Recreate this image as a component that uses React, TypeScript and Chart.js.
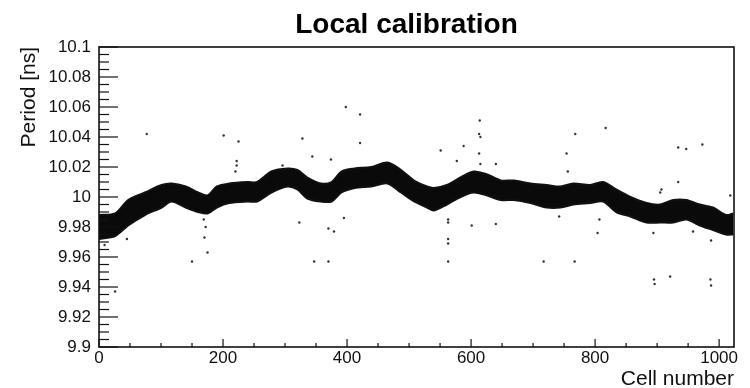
import { useEffect, useRef } from "react";
import { Chart, registerables } from "chart.js";

Chart.register(...registerables);

const TITLE = "Local calibration";
const X_TITLE = "Cell number";
const Y_TITLE = "Period [ns]";

const X_MIN = 0;
const X_MAX = 1024;
const Y_MIN = 9.9;
const Y_MAX = 10.1;
const xTickValues = [0, 200, 400, 600, 800, 1000];
const yTickValues = [9.9, 9.92, 9.94, 9.96, 9.98, 10, 10.02, 10.04, 10.06, 10.08, 10.1];

// Dense band of per-cell periods: upper / lower envelope
const bandCells = [0, 26, 47, 74, 101, 117, 140, 160, 175, 190, 210, 240, 255, 278, 304, 320, 336, 358, 375, 391, 412, 439, 465, 487, 508, 529, 540, 561, 583, 604, 626, 648, 669, 696, 722, 744, 765, 792, 813, 834, 857, 883, 905, 926, 947, 969, 990, 1011, 1023];
const bandUpper = [9.988, 9.989, 9.998, 10.003, 10.008, 10.009, 10.007, 10.003, 10.001, 10.007, 10.009, 10.010, 10.010, 10.017, 10.019, 10.018, 10.013, 10.009, 10.010, 10.017, 10.019, 10.020, 10.023, 10.018, 10.011, 10.007, 10.006, 10.008, 10.013, 10.017, 10.015, 10.011, 10.011, 10.009, 10.008, 10.007, 10.009, 10.008, 10.010, 10.005, 10.000, 9.996, 9.995, 9.998, 9.998, 9.995, 9.993, 9.988, 9.989];
const bandLower = [9.972, 9.974, 9.981, 9.988, 9.993, 9.997, 9.993, 9.990, 9.989, 9.993, 9.996, 9.997, 9.997, 10.003, 10.007, 10.005, 9.999, 9.997, 9.997, 10.003, 10.006, 10.007, 10.009, 10.003, 9.997, 9.993, 9.991, 9.995, 10.000, 10.003, 10.001, 9.998, 9.998, 9.996, 9.993, 9.993, 9.995, 9.996, 9.997, 9.990, 9.987, 9.983, 9.983, 9.983, 9.985, 9.981, 9.978, 9.975, 9.975];

// Isolated cells away from the band
const outlierCells = [77, 201, 225, 222, 222, 220, 9, 45, 26, 150, 169, 172, 170, 175, 328, 398, 421, 421, 344, 374, 551, 577, 588, 614, 613, 615, 613, 615, 640, 296, 323, 370, 379, 395, 347, 370, 563, 563, 563, 563, 563, 601, 640, 817, 768, 754, 756, 934, 947, 973, 934, 907, 905, 1018, 717, 767, 742, 807, 804, 894, 895, 896, 921, 987, 986, 987, 958];
const outlierValues = [10.042, 10.041, 10.037, 10.024, 10.021, 10.017, 9.968, 9.972, 9.937, 9.957, 9.985, 9.980, 9.973, 9.963, 10.039, 10.060, 10.055, 10.036, 10.027, 10.025, 10.031, 10.024, 10.034, 10.051, 10.042, 10.040, 10.029, 10.022, 10.022, 10.021, 9.983, 9.979, 9.977, 9.986, 9.957, 9.957, 9.985, 9.983, 9.972, 9.969, 9.957, 9.981, 9.982, 10.046, 10.042, 10.029, 10.017, 10.033, 10.032, 10.035, 10.010, 10.005, 10.003, 10.001, 9.957, 9.957, 9.987, 9.985, 9.976, 9.976, 9.945, 9.942, 9.947, 9.971, 9.945, 9.941, 9.977];

const FONT = '"Liberation Sans", Arial, Helvetica, sans-serif';

const rootFrame = {
  id: "rootFrame",
  afterDraw(chart: any) {
    const { ctx, chartArea: a, scales } = chart;
    const xs = scales.x;
    const ys = scales.y;
    ctx.save();
    ctx.strokeStyle = "#111";
    ctx.lineWidth = 1.2;
    // y ticks (inside, major every 0.02, minor every 0.005)
    for (let i = 0; i <= 40; i++) {
      const v = Y_MIN + i * 0.005;
      const py = ys.getPixelForValue(v);
      const len = i % 4 === 0 ? 19 : 10;
      ctx.beginPath();
      ctx.moveTo(a.left, py);
      ctx.lineTo(a.left + len, py);
      ctx.stroke();
    }
    // x ticks (inside, major every 200, minor every 50)
    for (let c = X_MIN; c <= X_MAX; c += 50) {
      const px = xs.getPixelForValue(c);
      const len = c % 200 === 0 ? 8 : 4;
      ctx.beginPath();
      ctx.moveTo(px, a.bottom);
      ctx.lineTo(px, a.bottom - len);
      ctx.stroke();
    }
    ctx.lineWidth = 1.6;
    ctx.strokeRect(a.left, a.top, a.right - a.left, a.bottom - a.top);
    // title
    ctx.fillStyle = "#000";
    ctx.font = `bold 28px ${FONT}`;
    ctx.textAlign = "center";
    ctx.textBaseline = "alphabetic";
    ctx.fillText(TITLE, (a.left + a.right) / 2 - 10, 33);
    ctx.restore();
  },
};

export default function App() {
  const ref = useRef<HTMLCanvasElement | null>(null);
  useEffect(() => {
    if (!ref.current) return;
    const chart = new Chart(ref.current, {
      type: "line",
      data: {
        datasets: [
          {
            type: "line",
            data: bandCells.map((c, i) => ({ x: c, y: bandLower[i] })),
            borderColor: "#111",
            backgroundColor: "#111",
            borderWidth: 2,
            pointRadius: 0,
            tension: 0.3,
            fill: false,
          },
          {
            type: "line",
            data: bandCells.map((c, i) => ({ x: c, y: bandUpper[i] })),
            borderColor: "#111",
            backgroundColor: "#0a0a0a",
            borderWidth: 2,
            pointRadius: 0,
            tension: 0.3,
            fill: "-1",
          },
          {
            type: "scatter",
            data: outlierCells.map((c, i) => ({ x: c, y: outlierValues[i] })),
            backgroundColor: "#333",
            borderWidth: 0,
            pointRadius: 1.2,
            showLine: false,
          },
        ],
      } as any,
      options: {
        responsive: false,
        animation: false,
        layout: { padding: { top: 47, right: 16, left: 0, bottom: 0 } },
        plugins: {
          legend: { display: false },
          tooltip: { enabled: false },
          title: { display: false },
        },
        scales: {
          x: {
            type: "linear",
            min: X_MIN,
            max: X_MAX,
            grid: { display: false, drawTicks: false },
            border: { display: false },
            afterBuildTicks: (s: any) => {
              s.ticks = xTickValues.map((v) => ({ value: v }));
            },
            afterFit: (s: any) => {
              s.height = 41;
            },
            ticks: {
              padding: 1,
              color: "#111",
              font: { family: FONT, size: 17 },
              maxRotation: 0,
              autoSkip: false,
              callback: (v: any) => String(v),
            },
            title: {
              display: true,
              text: X_TITLE,
              align: "end",
              color: "#111",
              font: { family: FONT, size: 21, lineHeight: 0.8 },
              padding: { top: 0, bottom: 0 },
            },
          },
          y: {
            type: "linear",
            min: Y_MIN,
            max: Y_MAX,
            grid: { display: false, drawTicks: false },
            border: { display: false },
            afterBuildTicks: (s: any) => {
              s.ticks = yTickValues.map((v) => ({ value: v }));
            },
            afterFit: (s: any) => {
              s.width = 99;
            },
            ticks: {
              padding: 8,
              color: "#111",
              font: { family: FONT, size: 17 },
              autoSkip: false,
              callback: (v: any) => String(+Number(v).toFixed(2)),
            },
            title: {
              display: true,
              text: Y_TITLE,
              align: "end",
              color: "#111",
              font: { family: FONT, size: 21, lineHeight: 1 },
              padding: { top: 19, bottom: 0 },
            },
          },
        },
      } as any,
      plugins: [rootFrame],
    });
    return () => chart.destroy();
  }, []);
  return (
    <div style={{ position: "fixed", left: 0, top: 0, width: 750, height: 388, background: "#fff" }}>
      <canvas ref={ref} width={750} height={388} />
    </div>
  );
}
